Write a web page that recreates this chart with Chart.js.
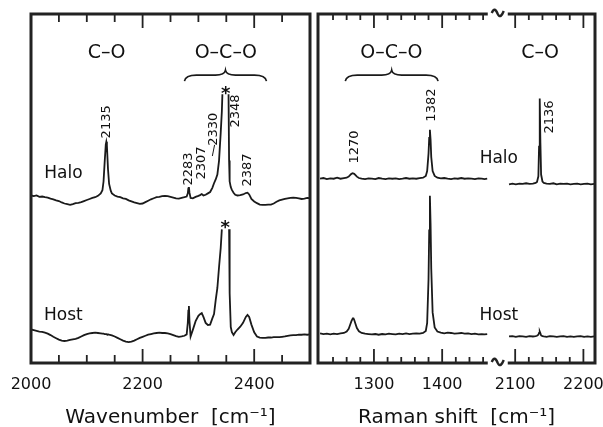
<!DOCTYPE html>
<html>
<head>
<meta charset="utf-8">
<script src="https://cdn.jsdelivr.net/npm/chart.js@4.4.1/dist/chart.umd.min.js"></script>
<style>
  body { margin: 0; background: #fff; overflow: hidden; }
  #wrap { position: relative; width: 603px; height: 427px; }
  #irChart { position: absolute; left: 0; top: 0; }
  #ramanChart { position: absolute; left: 312px; top: 0; }
</style>
</head>
<body>
<div id="wrap">
  <canvas id="irChart" width="342" height="430" style="width:342px;height:430px"></canvas>
  <canvas id="ramanChart" width="291" height="430" style="width:291px;height:430px"></canvas>
</div>
<script>
// ---- data (arbitrary intensity units, traces offset) ----

// IR spectrum, left panel. null = clipped top of the saturated band (*)
const irWavenumber = [
  2000, 2005, 2010, 2015, 2020, 2025, 2030, 2035, 2040, 2045, 2050, 2055, 2060, 2065, 2070,
  2075, 2080, 2085, 2090, 2095, 2100, 2105, 2110, 2115, 2120, 2125, 2128, 2130, 2132, 2134,
  2135, 2136, 2138, 2140, 2143, 2145, 2150, 2155, 2160, 2165, 2170, 2175, 2180, 2185, 2190,
  2195, 2200, 2205, 2210, 2215, 2220, 2225, 2230, 2235, 2240, 2245, 2250, 2255, 2260, 2265,
  2270, 2275, 2279, 2281, 2282, 2283, 2284, 2286, 2290, 2295, 2300, 2303, 2306, 2309, 2313,
  2317, 2321, 2325, 2328, 2331, 2334, 2337, 2340, 2342, 2343, 2348, 2354, 2355, 2356, 2358,
  2360, 2363, 2366, 2370, 2375, 2380, 2385, 2388, 2391, 2395, 2400, 2405, 2410, 2415, 2420,
  2425, 2430, 2435, 2440, 2445, 2450, 2455, 2460, 2465, 2470, 2475, 2480, 2485, 2490, 2495,
  2500,
];
const irHalo = [
  48.0, 47.8, 48.0, 47.6, 47.7, 47.5, 47.4, 47.1, 46.9, 46.6, 46.4, 46.0, 45.7, 45.5, 45.3,
  45.5, 45.8, 45.9, 46.1, 46.4, 46.7, 47.0, 47.3, 47.5, 47.9, 48.6, 49.5, 52.0, 57.5, 62.6,
  63.4, 62.4, 55.5, 51.3, 49.3, 48.6, 48.0, 47.7, 47.5, 47.2, 47.0, 46.6, 46.3, 46.0, 45.8,
  45.6, 45.7, 46.1, 46.5, 46.9, 47.2, 47.5, 47.6, 47.8, 47.9, 47.8, 47.6, 47.4, 47.2, 47.1,
  47.3, 47.5, 47.7, 48.6, 50.0, 50.4, 48.8, 47.3, 47.2, 47.6, 47.9, 48.1, 48.4, 48.0, 48.2,
  48.6, 49.0, 50.2, 51.5, 52.6, 54.0, 58.0, 66.0, 72.0, 77.0, null, 77.0, 58.0, 52.0, 50.4,
  49.6, 48.8, 48.2, 48.0, 48.1, 48.3, 48.7, 48.8, 48.3, 47.0, 46.3, 45.8, 45.4, 45.3, 45.3,
  45.4, 45.4, 45.7, 46.2, 46.6, 46.8, 47.0, 47.2, 47.3, 47.4, 47.3, 47.2, 47.0, 47.1, 47.3,
  47.2,
];
const irHost = [
  9.6, 9.4, 9.2, 9.0, 8.9, 8.7, 8.4, 8.0, 7.5, 7.1, 6.7, 6.4, 6.3, 6.4, 6.6,
  6.8, 6.9, 7.2, 7.6, 8.0, 8.3, 8.5, 8.6, 8.7, 8.6, 8.5, 8.4, 8.4, 8.3, 8.3,
  8.3, 8.2, 8.2, 8.1, 8.0, 7.9, 7.6, 7.2, 6.8, 6.4, 6.1, 6.0, 6.1, 6.4, 6.8,
  7.2, 7.5, 7.8, 8.1, 8.3, 8.5, 8.6, 8.7, 8.6, 8.6, 8.5, 8.3, 8.0, 7.7, 7.5,
  7.6, 7.8, 8.2, 11.5, 15.0, 16.3, 12.0, 7.6, 9.5, 12.0, 13.5, 14.0, 14.3, 13.2, 11.5,
  10.9, 11.0, 12.8, 14.0, 18.0, 21.5, 27.5, 33.0, 38.3, null, null, null, 38.3, 20.0, 10.3,
  8.8, 8.0, 8.8, 9.6, 10.4, 11.5, 13.2, 13.8, 13.2, 11.0, 8.8, 7.6, 7.3, 7.2, 7.2,
  7.3, 7.3, 7.4, 7.4, 7.4, 7.5, 7.6, 7.8, 7.9, 8.0, 8.0, 8.1, 8.1, 8.2, 8.1,
  8.2,
];

// Raman spectrum, right panel, low window (before the axis break)
const ramanLowShift = [
  1221, 1226, 1231, 1236, 1241, 1246, 1251, 1256, 1260, 1263, 1265, 1267, 1269, 1270, 1271,
  1273, 1275, 1278, 1282, 1287, 1292, 1297, 1302, 1307, 1312, 1317, 1322, 1327, 1332, 1337,
  1342, 1347, 1352, 1357, 1362, 1367, 1372, 1376, 1378, 1380, 1381, 1382, 1383, 1384, 1386,
  1389, 1393, 1398, 1403, 1408, 1413, 1418, 1423, 1428, 1433, 1438, 1443, 1448, 1453, 1458,
  1462, 1466,
];
const ramanLowHalo = [
  52.8, 53.0, 52.7, 52.9, 52.8, 53.1, 52.8, 53.0, 53.1, 53.4, 53.8, 54.2, 54.4, 54.3, 54.2,
  53.8, 53.4, 53.0, 52.8, 52.7, 52.9, 52.8, 52.7, 53.0, 52.8, 52.7, 52.9, 52.8, 52.9, 52.7,
  52.8, 53.0, 52.8, 52.9, 52.8, 53.0, 53.1, 53.6, 55.0, 60.0, 64.5, 66.8, 64.0, 59.0, 55.0,
  53.6, 53.1, 52.9, 53.0, 52.8, 52.7, 52.9, 52.8, 53.0, 52.8, 52.9, 52.8, 52.7, 52.9, 52.8,
  52.7, 52.8,
];
const ramanLowHost = [
  8.5, 8.3, 8.4, 8.2, 8.4, 8.3, 8.5, 8.6, 9.0, 9.8, 10.9, 12.0, 12.8, 12.8, 12.4,
  11.2, 10.0, 9.1, 8.6, 8.4, 8.3, 8.2, 8.3, 8.1, 8.3, 8.2, 8.4, 8.3, 8.2, 8.4,
  8.3, 8.5, 8.3, 8.4, 8.5, 8.4, 8.6, 9.2, 11.5, 24.0, 38.0, 47.9, 40.0, 27.0, 14.5,
  10.2, 9.0, 8.7, 8.5, 8.7, 8.6, 8.4, 8.5, 8.6, 8.4, 8.5, 8.3, 8.4, 8.2, 8.3,
  8.2, 8.3,
];

// Raman spectrum, high window (after the axis break)
const ramanHighShift = [
  2091, 2096, 2101, 2106, 2111, 2116, 2121, 2126, 2130, 2132, 2134, 2135, 2136, 2137, 2138,
  2140, 2142, 2146, 2151, 2156, 2161, 2166, 2171, 2176, 2181, 2186, 2191, 2196, 2201, 2206,
  2211, 2216,
];
const ramanHighHalo = [
  51.2, 51.4, 51.2, 51.4, 51.3, 51.5, 51.3, 51.4, 51.6, 51.9, 53.5, 62.0, 75.8, 63.0, 54.0,
  52.0, 51.6, 51.4, 51.3, 51.5, 51.2, 51.4, 51.3, 51.4, 51.2, 51.3, 51.4, 51.2, 51.3, 51.4,
  51.2, 51.3,
];
const ramanHighHost = [
  7.6, 7.7, 7.5, 7.7, 7.6, 7.5, 7.7, 7.6, 7.7, 7.8, 8.1, 8.6, 9.0, 8.5, 7.9,
  7.7, 7.6, 7.5, 7.7, 7.6, 7.5, 7.6, 7.7, 7.5, 7.6, 7.5, 7.6, 7.7, 7.5, 7.6,
  7.5, 7.6,
];

const traceNames = ["Halo", "Host"];
const bandNames = ["C–O", "O–C–O"];
const irPeaks = ["2135", "2283", "2307", "2330", "2348", "2387"];
const ramanPeaks = ["1270", "1382", "2136"];
const irTitle = "Wavenumber  [cm⁻¹]";
const ramanTitle = "Raman shift  [cm⁻¹]";

// ---- layout / style ----
const FONT = "'DejaVu Sans', Verdana, sans-serif";
const INK = "#1a1a1a";

// label anchors in data units [x, y]
const irPeakAt = [[2135.5, 69.1], [2282, 55.6], [2305.5, 57.3], [2326.5, 67.0], [2367, 72.2], [2388.3, 55.3]];
const ramanPeakAt = [["xa", 1271.4, 61.9], ["xa", 1384, 73.9], ["xb", 2151, 70.5]];

const toPoints = (xs, ys) => xs.map((x, i) => ({ x: x, y: ys[i] }));

function trace(label, xs, ys, xAxisID) {
  return {
    label: label,
    data: toPoints(xs, ys),
    xAxisID: xAxisID,
    yAxisID: "y",
    borderColor: INK,
    borderWidth: 1.8,
    pointRadius: 0,
    tension: 0,
    fill: false,
    spanGaps: false,
  };
}

function tickAxis(min, max, step, major, extra) {
  return Object.assign({
    type: "linear",
    position: "bottom",
    min: min,
    max: max,
    grid: { display: false, drawTicks: false },
    border: { display: false },
    ticks: {
      stepSize: step,
      includeBounds: false,
      autoSkip: false,
      maxRotation: 0,
      padding: 12,
      color: "#111",
      font: { family: FONT, size: 16 },
      callback: (v) => (v % major === 0 ? String(v) : ""),
    },
    afterFit: (scale) => {
      // fixed axis band, labels may hang over the plot edges
      scale.height = 43;
      scale.paddingLeft = 0;
      scale.paddingRight = 0;
    },
  }, extra || {});
}

function text(ctx, str, x, y, size, rotate, bold) {
  ctx.save();
  ctx.font = (bold ? "bold " : "") + size + "px " + FONT;
  ctx.textAlign = "center";
  ctx.textBaseline = "middle";
  ctx.translate(x, y);
  if (rotate) ctx.rotate(-Math.PI / 2);
  ctx.fillText(str, 0, 0);
  ctx.restore();
}

function asterisk(ctx, x, y) {
  ctx.save();
  ctx.font = "bold 18px " + FONT;
  ctx.textAlign = "center";
  ctx.textBaseline = "alphabetic";
  ctx.fillText("*", x, y + 11);
  ctx.restore();
}

function brace(ctx, x1, x2, y) {
  const xm = (x1 + x2) / 2;
  ctx.save();
  ctx.lineWidth = 1.6;
  ctx.strokeStyle = INK;
  ctx.beginPath();
  ctx.moveTo(x1, y + 6);
  ctx.quadraticCurveTo(x1 + 1, y, x1 + 12, y);
  ctx.lineTo(xm - 10, y);
  ctx.quadraticCurveTo(xm - 1, y, xm, y - 5);
  ctx.quadraticCurveTo(xm + 1, y, xm + 10, y);
  ctx.lineTo(x2 - 12, y);
  ctx.quadraticCurveTo(x2 - 1, y, x2, y + 6);
  ctx.stroke();
  ctx.restore();
}

// frame with inward ticks on top and bottom, optional axis break
function panelPlugin(cfg) {
  return {
    id: "panel",
    afterDraw(chart) {
      const ctx = chart.ctx;
      const area = chart.chartArea;
      ctx.save();
      ctx.strokeStyle = "#222";
      ctx.fillStyle = "#111";

      ctx.lineWidth = 1.8;
      cfg.axes.forEach((a) => {
        const sc = chart.scales[a.id];
        sc.ticks.forEach((t) => {
          if (t.value % a.step !== 0) return;
          const px = sc.getPixelForValue(t.value);
          if (px < sc.left + 5 || px > sc.right - 5) return;
          const len = t.value % a.major === 0 ? 14 : a.minorLen;
          ctx.beginPath();
          ctx.moveTo(px, area.top);
          ctx.lineTo(px, area.top + len);
          ctx.moveTo(px, area.bottom);
          ctx.lineTo(px, area.bottom - len);
          ctx.stroke();
        });
      });

      ctx.lineWidth = 3;
      ctx.lineJoin = "miter";
      if (cfg.breakAt) {
        const b = chart.scales[cfg.breakAt].right;
        ctx.beginPath();
        ctx.moveTo(b - 9, area.top);
        ctx.lineTo(area.left, area.top);
        ctx.lineTo(area.left, area.bottom);
        ctx.lineTo(b - 9, area.bottom);
        ctx.moveTo(b + 11, area.top);
        ctx.lineTo(area.right, area.top);
        ctx.lineTo(area.right, area.bottom);
        ctx.lineTo(b + 11, area.bottom);
        ctx.stroke();
        ctx.lineWidth = 2.4;
        [area.top, area.bottom].forEach((yy) => {
          ctx.beginPath();
          ctx.moveTo(b - 5, yy - 1);
          ctx.bezierCurveTo(b - 3, yy - 6, b - 1, yy - 5, b + 1, yy);
          ctx.bezierCurveTo(b + 3, yy + 4, b + 5, yy + 2, b + 7, yy - 3);
          ctx.stroke();
        });
      } else {
        ctx.strokeRect(area.left, area.top, area.right - area.left, area.bottom - area.top);
      }
      ctx.restore();

      ctx.save();
      ctx.fillStyle = "#111";
      cfg.decorate(chart, ctx);
      ctx.restore();
    },
  };
}

// ---- IR chart ----
new Chart(document.getElementById("irChart"), {
  type: "line",
  data: {
    datasets: [
      trace(traceNames[0], irWavenumber, irHalo, "x"),
      trace(traceNames[1], irWavenumber, irHost, "x"),
    ],
  },
  options: {
    responsive: false,
    animation: false,
    devicePixelRatio: 1,
    layout: { padding: { left: 31, right: 32, top: 14, bottom: 0 } },
    scales: {
      x: tickAxis(2000, 2500, 50, 200),
      y: { display: false, min: 0, max: 100 },
    },
    plugins: {
      legend: { display: false },
      tooltip: { enabled: false },
      title: {
        display: true,
        position: "bottom",
        text: irTitle,
        color: "#111",
        font: { family: FONT, size: 20, weight: "normal" },
        padding: { top: 0, bottom: 0 },
      },
    },
  },
  plugins: [
    panelPlugin({
      axes: [{ id: "x", step: 50, major: 200, minorLen: 8 }],
      decorate(chart, ctx) {
        const x = chart.scales.x;
        const y = chart.scales.y;
        const X = (v) => x.getPixelForValue(v);
        const Y = (v) => y.getPixelForValue(v);
        text(ctx, bandNames[0], X(2135.5), Y(88.8), 19);
        text(ctx, bandNames[1], X(2349), Y(88.8), 19);
        brace(ctx, X(2275), X(2422), Y(82.5));
        irPeaks.forEach((p, i) => text(ctx, p, X(irPeakAt[i][0]), Y(irPeakAt[i][1]), 13, true));
        // leader for the 2330 shoulder
        ctx.strokeStyle = INK;
        ctx.lineWidth = 1;
        ctx.beginPath();
        ctx.moveTo(X(2329), Y(62.5));
        ctx.lineTo(X(2325), Y(59.3));
        ctx.stroke();
        asterisk(ctx, X(2349), Y(78.8));
        asterisk(ctx, X(2348), Y(40.4));
        text(ctx, traceNames[0], X(2058), Y(54.2), 17);
        text(ctx, traceNames[1], X(2058), Y(13.5), 17);
      },
    }),
  ],
});

// ---- Raman chart (broken x axis: two stacked x scales) ----
new Chart(document.getElementById("ramanChart"), {
  type: "line",
  data: {
    datasets: [
      trace(traceNames[0], ramanLowShift, ramanLowHalo, "xa"),
      trace(traceNames[1], ramanLowShift, ramanLowHost, "xa"),
      trace(traceNames[0], ramanHighShift, ramanHighHalo, "xb"),
      trace(traceNames[1], ramanHighShift, ramanHighHost, "xb"),
    ],
  },
  options: {
    responsive: false,
    animation: false,
    devicePixelRatio: 1,
    layout: { padding: { left: 6, right: 8, top: 14, bottom: 0 } },
    scales: {
      xa: tickAxis(1218, 1480, 20, 100, { stack: "raman", stackWeight: 262 }),
      xb: tickAxis(2073, 2217, 20, 100, { stack: "raman", stackWeight: 144 }),
      y: { display: false, min: 0, max: 100 },
    },
    plugins: {
      legend: { display: false },
      tooltip: { enabled: false },
      title: {
        display: true,
        position: "bottom",
        text: ramanTitle,
        color: "#111",
        font: { family: FONT, size: 20, weight: "normal" },
        padding: { top: 0, bottom: 0 },
      },
    },
  },
  plugins: [
    panelPlugin({
      axes: [
        { id: "xa", step: 20, major: 100, minorLen: 6 },
        { id: "xb", step: 20, major: 100, minorLen: 6 },
      ],
      breakAt: "xa",
      decorate(chart, ctx) {
        const y = chart.scales.y;
        const P = (axis, v) => chart.scales[axis].getPixelForValue(v);
        const Y = (v) => y.getPixelForValue(v);
        text(ctx, bandNames[1], P("xa", 1325.5), Y(88.8), 19);
        text(ctx, bandNames[0], P("xb", 2136.5), Y(88.8), 19);
        brace(ctx, P("xa", 1258), P("xa", 1394), Y(82.5));
        ramanPeaks.forEach((p, i) => {
          const a = ramanPeakAt[i];
          text(ctx, p, P(a[0], a[1]), Y(a[2]), 13, true);
        });
        text(ctx, traceNames[0], P("xb", 2076), Y(58.5), 17);
        text(ctx, traceNames[1], P("xb", 2076), Y(13.5), 17);
      },
    }),
  ],
});
</script>
</body>
</html>
